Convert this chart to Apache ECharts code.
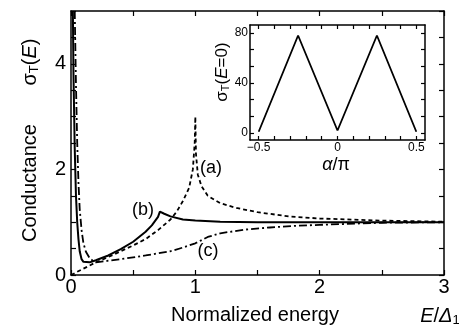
<!DOCTYPE html>
<html>
<head>
<meta charset="utf-8">
<script src="https://cdn.jsdelivr.net/npm/echarts@6/dist/echarts.min.js"></script>
<style>
  html, body { margin: 0; padding: 0; background: #fff; }
  #main { width: 459px; height: 330px; }
</style>
</head>
<body>
<div id="main"></div>
<script>
// curve (a): dashed, peak at E = Delta1
var curveA = [
  [0, 0], [0.05, 0.06], [0.1, 0.12], [0.2, 0.24], [0.3, 0.34], [0.4, 0.45],
  [0.5, 0.56], [0.6, 0.68], [0.7, 0.85], [0.8, 1.05], [0.85, 1.2], [0.9, 1.4],
  [0.95, 1.65], [0.98, 2.0], [0.995, 2.5], [1.0, 3.0], [1.005, 2.3], [1.02, 1.9],
  [1.05, 1.68], [1.1, 1.5], [1.2, 1.36], [1.33, 1.27], [1.5, 1.19], [1.75, 1.11],
  [2.0, 1.07], [2.5, 1.03], [3.0, 1.01]
];
// curve (b): solid, zero-energy peak + kink near 0.72
var curveB = [
  [0.015, 5.0], [0.02, 3.8], [0.03, 2.4], [0.04, 1.5], [0.05, 1.0], [0.06, 0.68],
  [0.07, 0.45], [0.085, 0.3], [0.1, 0.25], [0.15, 0.24], [0.2, 0.28], [0.3, 0.37],
  [0.4, 0.49], [0.5, 0.63], [0.6, 0.82], [0.65, 0.94], [0.7, 1.1], [0.715, 1.2],
  [0.75, 1.16], [0.8, 1.11], [0.9, 1.05], [1.0, 1.03], [1.2, 1.01], [1.5, 1.0],
  [3.0, 1.0]
];
// curve (c): dash-dot
var curveC = [
  [0.03, 5.0], [0.04, 3.6], [0.05, 2.5], [0.06, 1.75], [0.07, 1.25], [0.085, 0.85],
  [0.1, 0.6], [0.12, 0.44], [0.15, 0.32], [0.18, 0.26], [0.2, 0.24], [0.4, 0.3],
  [0.6, 0.37], [0.8, 0.45], [0.9, 0.52], [1.0, 0.6], [1.1, 0.72], [1.2, 0.79],
  [1.4, 0.86], [1.6, 0.9], [1.8, 0.93], [2.0, 0.95], [2.5, 0.99], [3.0, 1.0]
];
// inset: sigma_T(E=0) vs alpha/pi
var insetAlpha = [-0.5, -0.25, 0, 0.25, 0.5];
var insetSigma = [1, 78, 2, 78, 1];

var insetXLabels = [-0.5, 0, 0.5];
var insetXTicks = [-0.5, -0.4, -0.3, -0.2, -0.1, 0, 0.1, 0.2, 0.3, 0.4, 0.5];
var insetYLabels = [0, 40, 80];
var insetYTicks = [0, 13.33, 26.67, 40, 53.33, 66.67, 80];

var FONT = 'Liberation Sans';
var chart = echarts.init(document.getElementById('main'));

var tick = { show: true, inside: true, length: 5, lineStyle: { color: '#000', width: 1.2 } };
var line = { show: true, onZero: false, lineStyle: { color: '#000', width: 1.5 } };
var noLabel = { show: false };

function mainAxis(pos, extra) {
  return Object.assign({
    type: 'value', position: pos, axisLine: line, axisTick: tick,
    splitLine: { show: false }
  }, extra);
}

var subRich = {
  s: { fontSize: 20, fontFamily: FONT, color: '#000' },
  sub: { fontSize: 13, fontFamily: FONT, color: '#000', padding: [9, 0, 0, 0] },
  i: { fontSize: 20, fontFamily: FONT, fontStyle: 'italic', color: '#000' }
};

var option = {
  animation: false,
  backgroundColor: '#fff',
  grid: [
    { left: 71, top: 11, width: 373, height: 264 },
    { left: 250, top: 25, width: 175, height: 115 }
  ],
  xAxis: [
    mainAxis('bottom', {
      gridIndex: 0, min: 0, max: 3, interval: 0.5,
      axisLabel: {
        margin: 2, fontSize: 20, fontFamily: FONT, color: '#000',
        formatter: function (v) { return v % 1 === 0 ? String(v) : ''; }
      }
    }),
    mainAxis('top', { gridIndex: 0, min: 0, max: 3, interval: 0.5, axisLabel: noLabel }),
    mainAxis('bottom', {
      gridIndex: 1, min: -0.555, max: 0.555,
      axisTick: Object.assign({}, tick, { length: 4, customValues: insetXTicks }),
      axisLabel: {
        margin: 2, fontSize: 12, fontFamily: FONT, color: '#000',
        customValues: insetXLabels,
        formatter: function (v) { return v < 0 ? '\u2212' + Math.abs(v) : String(v); }
      }
    }),
    mainAxis('top', {
      gridIndex: 1, min: -0.555, max: 0.555,
      axisTick: Object.assign({}, tick, { length: 4, customValues: insetXTicks }),
      axisLabel: noLabel
    })
  ],
  yAxis: [
    mainAxis('left', {
      gridIndex: 0, min: 0, max: 5, interval: 0.5,
      axisLabel: {
        margin: 5, fontSize: 20, fontFamily: FONT, color: '#000',
        formatter: function (v) { return v % 2 === 0 ? String(v) : ''; }
      }
    }),
    mainAxis('right', { gridIndex: 0, min: 0, max: 5, interval: 0.5, axisLabel: noLabel }),
    mainAxis('left', {
      gridIndex: 1, min: -5.6, max: 86.4,
      axisTick: Object.assign({}, tick, { length: 4, customValues: insetYTicks }),
      axisLabel: {
        margin: 2, fontSize: 12, fontFamily: FONT, color: '#000',
        customValues: insetYLabels
      }
    }),
    mainAxis('right', {
      gridIndex: 1, min: -5.6, max: 86.4,
      axisTick: Object.assign({}, tick, { length: 4, customValues: insetYTicks }),
      axisLabel: noLabel
    })
  ],
  series: [
    {
      name: '(a)', type: 'line', xAxisIndex: 0, yAxisIndex: 0, data: curveA,
      showSymbol: false, lineStyle: { color: '#000', width: 1.8, type: [4, 3] }
    },
    {
      name: '(b)', type: 'line', xAxisIndex: 0, yAxisIndex: 0, data: curveB,
      showSymbol: false, lineStyle: { color: '#000', width: 2 }
    },
    {
      name: '(c)', type: 'line', xAxisIndex: 0, yAxisIndex: 0, data: curveC,
      showSymbol: false, lineStyle: { color: '#000', width: 1.8, type: [8, 3, 2, 3] }
    },
    {
      name: 'inset', type: 'line', xAxisIndex: 2, yAxisIndex: 2,
      data: insetAlpha.map(function (a, i) { return [a, insetSigma[i]]; }),
      showSymbol: false, lineStyle: { color: '#000', width: 1.8 }
    }
  ],
  graphic: [
    { type: 'text', x: 211, y: 168, style: { text: '(a)', fontSize: 18, fontFamily: FONT, fill: '#000', align: 'center', verticalAlign: 'middle' } },
    { type: 'text', x: 143, y: 210, style: { text: '(b)', fontSize: 18, fontFamily: FONT, fill: '#000', align: 'center', verticalAlign: 'middle' } },
    { type: 'text', x: 208, y: 251, style: { text: '(c)', fontSize: 18, fontFamily: FONT, fill: '#000', align: 'center', verticalAlign: 'middle' } },
    { type: 'text', x: 30, y: 183, rotation: Math.PI / 2, style: { text: 'Conductance', fontSize: 20, fontFamily: FONT, fill: '#000', align: 'center', verticalAlign: 'middle' } },
    { type: 'text', x: 30, y: 62, rotation: Math.PI / 2, style: { text: '{s|σ}{sub|T}{s|(}{i|E}{s|)}', rich: subRich, align: 'center', verticalAlign: 'middle' } },
    { type: 'text', x: 222, y: 72, rotation: Math.PI / 2, style: {
      text: '{s|σ}{sub|T}{s|(}{i|E}{s|=0)}', align: 'center', verticalAlign: 'middle',
      rich: {
        s: { fontSize: 17, fontFamily: FONT, color: '#000' },
        sub: { fontSize: 11, fontFamily: FONT, color: '#000', padding: [8, 0, 0, 0] },
        i: { fontSize: 17, fontFamily: FONT, fontStyle: 'italic', color: '#000' }
      }
    } },
    { type: 'text', x: 336, y: 165, style: { text: '{i|α}{s|/π}', align: 'center', verticalAlign: 'middle',
      rich: {
        i: { fontSize: 18, fontFamily: FONT, fontStyle: 'italic', color: '#000' },
        s: { fontSize: 18, fontFamily: FONT, color: '#000' }
      } } },
    { type: 'text', x: 255, y: 315, style: { text: 'Normalized energy', fontSize: 20, fontFamily: FONT, fill: '#000', align: 'center', verticalAlign: 'middle' } },
    { type: 'text', x: 440, y: 316, style: { text: '{i|E}{s|/}{i|Δ}{sub|1}', rich: subRich, align: 'center', verticalAlign: 'middle' } }
  ]
};

chart.setOption(option);
</script>
</body>
</html>
